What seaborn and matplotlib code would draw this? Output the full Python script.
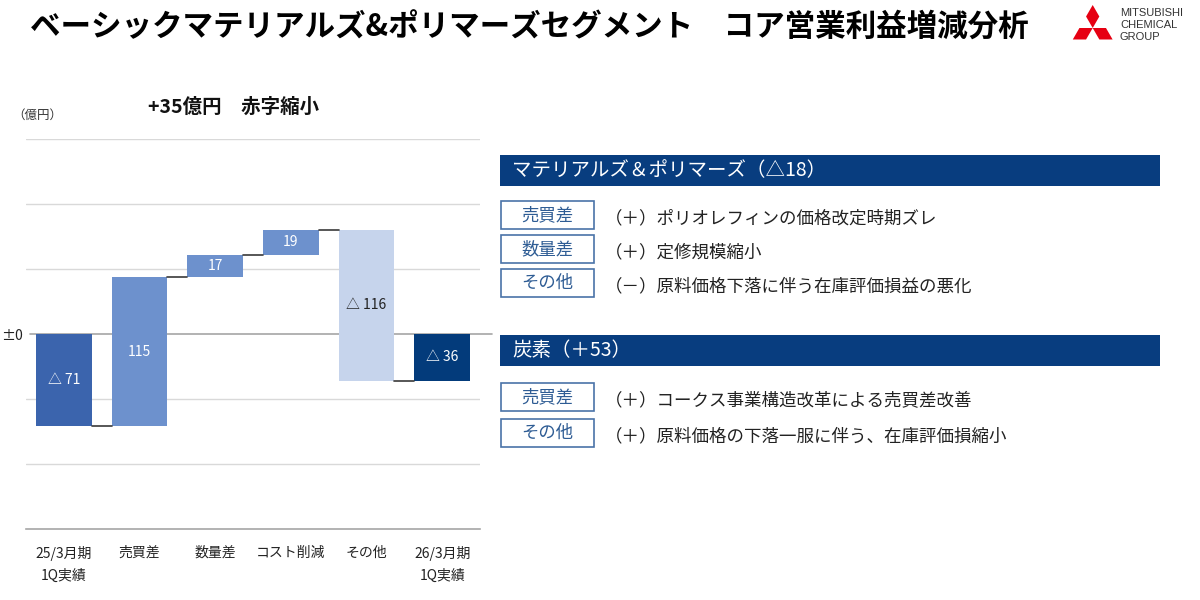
import numpy as np
import pandas as pd
import matplotlib
matplotlib.use("Agg")
import matplotlib.pyplot as plt
from matplotlib.patches import Rectangle, Polygon
import seaborn as sns

# chart data (億円)
categories = ["25/3月期\n1Q実績", "売買差", "数量差", "コスト削減", "その他", "26/3月期\n1Q実績"]
start_value = -71
step_values = [115, 17, 19, -116]
end_value = -36
bar_colors = ["#3B64AD", "#6D91CD", "#6D91CD", "#6D91CD", "#C6D4EC", "#033B7B"]
label_colors = ["white", "white", "white", "white", "#222222", "white"]

title = "ベーシックマテリアルズ&ポリマーズセグメント　コア営業利益増減分析"
subtitle = "+35億円　赤字縮小"
unit_label = "（億円）"

# right-hand explanation panel
section1_header = "マテリアルズ＆ポリマーズ（△18）"
section1_tags = ["売買差", "数量差", "その他"]
section1_notes = ["（＋）ポリオレフィンの価格改定時期ズレ",
                  "（＋）定修規模縮小",
                  "（－）原料価格下落に伴う在庫評価損益の悪化"]
section2_header = "炭素（＋53）"
section2_tags = ["売買差", "その他"]
section2_notes = ["（＋）コークス事業構造改革による売買差改善",
                  "（＋）原料価格の下落一服に伴う、在庫評価損縮小"]

W, H = 1200, 600


def fx(x):
    return x / W


def fy(y):
    return 1 - y / H


def fmt(v):
    return f"△ {abs(v)}" if v < 0 else f"{v}"


sns.set_theme(style="white")
plt.rcParams["font.family"] = ["Noto Sans CJK JP", "DejaVu Sans"]

heights = [start_value] + step_values + [end_value]
levels = np.cumsum([start_value] + step_values)
bottoms = [0] + list(levels[:-1]) + [0]
df = pd.DataFrame({"category": categories, "height": heights, "bottom": bottoms})

fig = plt.figure(figsize=(12, 6), dpi=100)
ax = fig.add_axes([fx(26), fy(529), fx(480) - fx(26), fy(139) - fy(529)])

bar_w = 0.74
sns.barplot(data=df, x="category", y="height", order=categories, width=bar_w,
            ax=ax, errorbar=None, saturation=1, zorder=3)
for patch, b, c in zip(ax.patches, df["bottom"], bar_colors):
    patch.set_y(b)
    patch.set_facecolor(c)
    patch.set_edgecolor("none")

# connectors between bars
run_levels = list(levels) + [end_value]
for i in range(len(categories) - 1):
    lvl = run_levels[i]
    ax.plot([i + bar_w / 2, i + 1 - bar_w / 2], [lvl, lvl], color="#3A3A3A", lw=1.2, zorder=4)

# value labels
for i, row in df.iterrows():
    ax.text(i, row["bottom"] + row["height"] / 2, fmt(row["height"]), ha="center", va="center",
            fontsize=10, color=label_colors[i], zorder=5)

ax.set_xlim(-0.5, 5.5)
ax.set_ylim(-150, 150)
ax.set_yticks([-150, -100, -50, 0, 50, 100, 150])
ax.set_yticklabels(["", "", "", "±0", "", "", ""], fontsize=10, color="#222222")
for g in [-100, -50, 50, 100, 150]:
    ax.axhline(g, color="#D9D9D9", lw=1, zorder=1)
ax.plot([-0.45, 5.66], [0, 0], color="#A6A6A6", lw=1.2, clip_on=False, zorder=2)
ax.tick_params(axis="both", length=0)
ax.tick_params(axis="y", pad=2)
ax.tick_params(axis="x", pad=12)
ax.set_xticks(range(len(categories)))
ax.set_xticklabels(categories, fontsize=10, color="#222222", linespacing=1.7)
ax.set_xlabel("")
ax.set_ylabel("")
sns.despine(ax=ax, left=True, top=True, right=True)
ax.spines["bottom"].set_color("#A6A6A6")
ax.spines["bottom"].set_linewidth(1.2)

# titles
fig.text(fx(30), fy(28), title, fontsize=22, fontweight="bold", ha="left", va="center", color="black")
fig.text(fx(148), fy(107), subtitle, fontsize=14, fontweight="bold", ha="left", va="center", color="#111111")
fig.text(fx(12), fy(115), unit_label, fontsize=9, ha="left", va="center", color="#333333")

# logo
C = np.array([1092.7, 28.0])
L = 23.0
s = L / np.sqrt(3)
for ang in [90, 210, 330]:
    d = np.array([np.cos(np.radians(ang)), -np.sin(np.radians(ang))])
    p = np.array([-d[1], d[0]])
    pts = [C, C + d * L / 2 + p * s / 2, C + d * L, C + d * L / 2 - p * s / 2]
    fig.patches.append(Polygon([(fx(x), fy(y)) for x, y in pts], closed=True,
                               transform=fig.transFigure, facecolor="#E60012", edgecolor="none"))
for k, word in enumerate(["MITSUBISHI", "CHEMICAL", "GROUP"]):
    fig.text(fx(1120), fy(13 + 11.8 * k), word, fontsize=8, family="Liberation Sans",
             ha="left", va="center", color="#333333")


# right panel
def header(y0, y1, txt):
    fig.patches.append(Rectangle((fx(500), fy(y1)), fx(1160) - fx(500), fy(y0) - fy(y1),
                                 transform=fig.transFigure, facecolor="#083D7F", edgecolor="none"))
    fig.text(fx(512), fy((y0 + y1) / 2), txt, fontsize=14, color="white", ha="left", va="center")


def tag_rows(tops, tags, notes):
    for t, tag, note in zip(tops, tags, notes):
        fig.patches.append(Rectangle((fx(501), fy(t + 28)), fx(594) - fx(501), fy(t) - fy(t + 28),
                                     transform=fig.transFigure, facecolor="white",
                                     edgecolor="#4A73A8", lw=1.2))
        fig.text(fx(547.5), fy(t + 14), tag, fontsize=12.5, color="#2E5C94", ha="center", va="center")
        fig.text(fx(605), fy(t + 17), note, fontsize=12.6, color="#222222", ha="left", va="center")


header(155, 186, section1_header)
tag_rows([201, 235, 269], section1_tags, section1_notes)
header(335, 366, section2_header)
tag_rows([383, 419], section2_tags, section2_notes)

fig.savefig("out.png", dpi=100, facecolor="white")
